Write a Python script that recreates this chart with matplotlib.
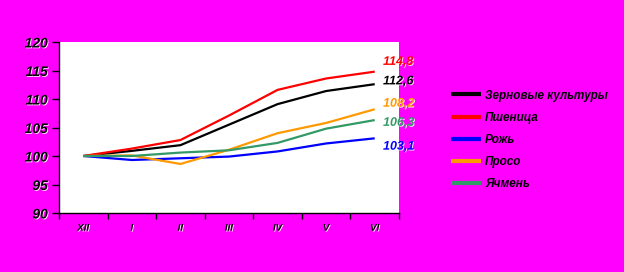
import matplotlib
matplotlib.use("Agg")
import matplotlib.pyplot as plt
import matplotlib.patheffects as pe

# months (roman numerals)
months = ["XII", "I", "II", "III", "IV", "V", "VI"]

grain = [100.0, 100.9, 101.9, 105.5, 109.1, 111.4, 112.6]
wheat = [100.0, 101.3, 102.8, 107.1, 111.6, 113.6, 114.8]
rye = [100.0, 99.3, 99.6, 99.9, 100.8, 102.2, 103.1]
millet = [100.0, 100.1, 98.6, 101.1, 104.0, 105.8, 108.2]
barley = [100.0, 100.0, 100.6, 101.0, 102.3, 104.8, 106.3]

names = ["Зерновые культуры", "Пшеница", "Рожь", "Просо", "Ячмень"]
end_labels = ["112,6", "114,8", "103,1", "108,2", "106,3"]

colors = ["#000000", "#FF0000", "#0000FF", "#FF9900", "#339966"]
label_dy = [2, 7, -6, 4, -2]  # pixel offsets of the end labels

plt.rcParams["font.family"] = ["Liberation Sans", "DejaVu Sans"]

shadow = [pe.withSimplePatchShadow(offset=(0.6, -0.6), shadow_rgbFace="white", alpha=0.9)]

fig = plt.figure(figsize=(6.24, 2.72), dpi=100, facecolor="#FF00FF")
ax = fig.add_axes([59 / 624, 1 - 213 / 272, 340 / 624, 171 / 272])
ax.set_facecolor("white")

x = list(range(len(months)))
series = [grain, wheat, rye, millet, barley]
for vals, name, col, lab, dy in zip(series, names, colors, end_labels, label_dy):
    ax.plot(x, vals, color=col, lw=1.6, label=name, solid_capstyle="butt")
    ax.annotate(lab, (x[-1], vals[-1]), xytext=(6, dy), textcoords="offset points",
                color=col, fontsize=9, fontweight="bold", fontstyle="italic",
                va="center", ha="left", annotation_clip=False, path_effects=shadow)

ax.set_xlim(-0.5, len(months) - 0.5)
ax.set_ylim(90, 120)
ax.set_yticks([90, 95, 100, 105, 110, 115, 120])
ax.set_xticks([i - 0.5 for i in range(len(months) + 1)], minor=False)
ax.set_xticklabels([])
ax.set_xticks(x, minor=True)
ax.set_xticklabels(months, minor=True)
ax.tick_params(axis="x", which="minor", length=0, pad=7, labelsize=7)
ax.tick_params(axis="x", which="major", length=4, direction="out", width=1)
ax.tick_params(axis="y", length=5, direction="out", width=1, labelsize=10, pad=3)
for t in ax.get_yticklabels() + ax.get_xticklabels(minor=True):
    t.set_fontweight("bold")
    t.set_fontstyle("italic")
    t.set_path_effects(shadow)

for s in ["top", "right"]:
    ax.spines[s].set_visible(False)
ax.spines["left"].set_linewidth(1)
ax.spines["bottom"].set_linewidth(1)

leg = fig.legend(loc="upper left", bbox_to_anchor=(440 / 624, 1 - 79 / 272),
                 frameon=False, handlelength=2.6, handletextpad=0.3,
                 labelspacing=0.85, prop={"size": 8.5, "weight": "bold", "style": "italic"})
for line in leg.get_lines():
    line.set_linewidth(3)

fig.savefig("out.png", dpi=100, facecolor=fig.get_facecolor())
